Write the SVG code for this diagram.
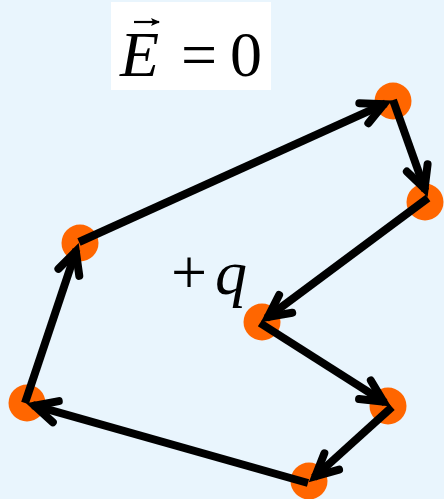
<svg xmlns="http://www.w3.org/2000/svg" width="444" height="499" viewBox="0 0 444 499">
  <style>
    .bg { fill: #e9f5fd; }
    .pt { fill: #ff6600; }
    .seg { stroke: #000; stroke-width: 8; fill: none; stroke-linecap: butt; }
    .math { font-family: "Liberation Serif", "Times New Roman", serif; font-size: 64px; fill: #000; }
    .it { font-style: italic; }
  </style>
  <defs>
    <marker id="head" markerUnits="userSpaceOnUse" orient="auto" refX="0" refY="0" markerWidth="60" markerHeight="60" viewBox="-40 -30 60 60" overflow="visible">
      <path d="M -24,-11 L -2,0 L -24,11" fill="none" stroke="#000" stroke-width="8" stroke-linecap="round" stroke-linejoin="miter"/>
    </marker>
    <marker id="vec" markerUnits="userSpaceOnUse" orient="auto" refX="0" refY="0" markerWidth="20" markerHeight="20" viewBox="-10 -10 20 20" overflow="visible">
      <path d="M -8,-4 L 1,0 L -8,4 L -6,0 Z" fill="#000"/>
    </marker>
  </defs>
  <rect class="bg" x="0" y="0" width="444" height="499"/>

  <g id="label-E">
    <rect x="111" y="2" width="160" height="88" fill="#ffffff"/>
    <text class="math it" x="120" y="76">E</text>
    <line x1="134" y1="22" x2="159" y2="22" stroke="#000" stroke-width="2.2" marker-end="url(#vec)"/>
    <text class="math" x="181" y="76">=</text>
    <text class="math" x="230" y="76">0</text>
  </g>

  <g id="label-q">
    <text class="math" x="171" y="294">+</text>
    <text class="math it" x="215" y="294">q</text>
  </g>

  <g id="nodes">
    <circle id="nA" class="pt" cx="80" cy="243" r="18.5"/>
    <circle id="nB" class="pt" cx="393" cy="101" r="18.5"/>
    <circle id="nC" class="pt" cx="425" cy="202" r="18.5"/>
    <circle id="nD" class="pt" cx="262" cy="322" r="18.5"/>
    <circle id="nE" class="pt" cx="388" cy="406" r="18.5"/>
    <circle id="nF" class="pt" cx="309" cy="481" r="18.5"/>
    <circle id="nG" class="pt" cx="27" cy="403" r="18.5"/>
  </g>

  <g id="connectors">
    <line class="seg" x1="79" y1="242" x2="385.7" y2="103.3" marker-end="url(#head)"/>
    <line class="seg" x1="393" y1="100" x2="425.3" y2="190.5" marker-end="url(#head)"/>
    <line class="seg" x1="428" y1="198" x2="266.4" y2="318.2" marker-end="url(#head)"/>
    <line class="seg" x1="260" y1="323" x2="385.2" y2="402.7" marker-end="url(#head)"/>
    <line class="seg" x1="392" y1="407" x2="313.9" y2="477.6" marker-end="url(#head)"/>
    <line class="seg" x1="308" y1="483" x2="32.7" y2="405.2" marker-end="url(#head)"/>
    <line class="seg" x1="25" y1="403" x2="76.5" y2="249.6" marker-end="url(#head)"/>
  </g>
</svg>
